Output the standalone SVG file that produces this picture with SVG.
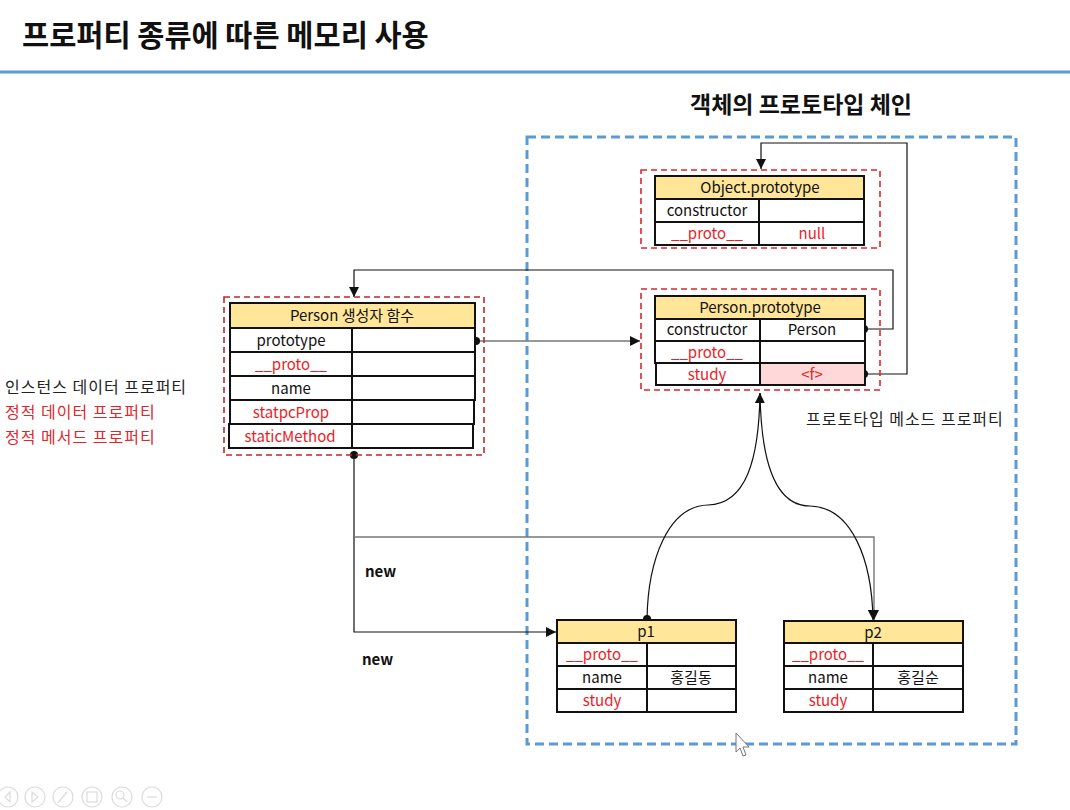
<svg xmlns="http://www.w3.org/2000/svg" width="1070" height="810" viewBox="0 0 1070 810">
  <style>
    text { font-family: "Noto Sans CJK KR", "Liberation Sans", sans-serif; }
    .title { font-size: 29.5px; font-weight: bold; fill: #111; }
    .sub { font-size: 23px; font-weight: bold; fill: #111; }
    .cell { fill: #fff; stroke: #111; stroke-width: 2; }
    .head { fill: #ffe699; stroke: #111; stroke-width: 2; }
    .pink { fill: #ffd9d9; stroke: #111; stroke-width: 2; }
    .t { font-size: 15px; fill: #111; text-anchor: middle; }
    .r { font-size: 15px; fill: #ec1c1f; text-anchor: middle; }
    .lg { font-size: 16px; fill: #222; letter-spacing: 1px; }
    .lgr { font-size: 16px; fill: #e0262c; letter-spacing: 1px; }
    .grp { fill: none; stroke: #e0262c; stroke-width: 1.6; stroke-dasharray: 6 4; }
    .grpd { fill: none; stroke: #b8282c; stroke-width: 1.6; stroke-dasharray: 6 4; }
    .conn { fill: none; stroke: #111; stroke-width: 1.2; }
    .connG { fill: none; stroke: #777; stroke-width: 1.4; }
    .ctl { fill: none; stroke: #dcdcdc; stroke-width: 1.2; }
  </style>
  <defs>
    <marker id="arr" viewBox="0 0 10 10" refX="10" refY="5" markerWidth="10" markerHeight="10" markerUnits="userSpaceOnUse" orient="auto">
      <path d="M0,0 L10,5 L0,10 z" fill="#111"/>
    </marker>
    <marker id="dot" viewBox="0 0 10 10" refX="5" refY="5" markerWidth="9" markerHeight="9" markerUnits="userSpaceOnUse">
      <circle cx="5" cy="5" r="4.5" fill="#111"/>
    </marker>
  </defs>

  <rect width="1070" height="810" fill="#fff"/>

  <!-- heading -->
  <text class="title" x="22" y="46">프로퍼티 종류에 따른 메모리 사용</text>
  <line x1="0" y1="72" x2="1070" y2="72" stroke="#5b9bd5" stroke-width="3"/>
  <text class="sub" x="801" y="113" text-anchor="middle">객체의 프로토타입 체인</text>

  <!-- prototype chain frame -->
  <rect x="527" y="137" width="489" height="607" fill="none" stroke="#5b9bd5" stroke-width="3" stroke-dasharray="9 5"/>

  <!-- legend -->
  <text class="lg" x="5" y="393">인스턴스 데이터 프로퍼티</text>
  <text class="lgr" x="5" y="418">정적 데이터 프로퍼티</text>
  <text class="lgr" x="5" y="443">정적 메서드 프로퍼티</text>
  <text class="lg" x="806" y="425">프로토타입 메소드 프로퍼티</text>

  <!-- connectors -->
  <g id="connectors">
    <!-- study <f> -> Object.prototype -->
    <path class="conn" d="M864,374 H907 V143 H761 V169" marker-start="url(#dot)" marker-end="url(#arr)"/>
    <!-- constructor -> Person -->
    <path class="conn" d="M864,329 H893 V270 H354 V297" marker-start="url(#dot)" marker-end="url(#arr)"/>
    <!-- prototype -> Person.prototype -->
    <path class="connG" d="M476,341 H640" marker-start="url(#dot)" marker-end="url(#arr)"/>
    <!-- new p1 -->
    <path class="conn" d="M354,455 V632 H556" marker-start="url(#dot)" marker-end="url(#arr)"/>
    <!-- new p2 -->
    <path class="connG" d="M354,537 H874 V620" marker-end="url(#arr)"/>
    <!-- instances -> Person.prototype -->
    <path class="conn" d="M647,619 C648,560 668,506 708,505 C746,504 759,460 760,393" marker-start="url(#dot)" marker-end="url(#arr)"/>
    <path class="conn" d="M760,393 C761,460 774,506 810,506 C852,507 872,560 873,620" marker-end="url(#arr)"/>
    <text x="365" y="577" font-size="15" font-weight="bold" fill="#111">new</text>
    <text x="362" y="665" font-size="15" font-weight="bold" fill="#111">new</text>
  </g>

  <!-- Object.prototype -->
  <g id="object-prototype">
    <rect class="grp" x="641" y="170" width="239" height="78"/>
    <rect class="head" x="655" y="176" width="209" height="23"/>
    <rect class="cell" x="655" y="199" width="104" height="23"/>
    <rect class="cell" x="759" y="199" width="105" height="23"/>
    <rect class="cell" x="655" y="222" width="104" height="23"/>
    <rect class="cell" x="759" y="222" width="105" height="23"/>
    <text class="t" x="760" y="193">Object.prototype</text>
    <text class="t" x="707" y="216">constructor</text>
    <text class="r" x="707" y="239">__proto__</text>
    <text class="r" x="812" y="239">null</text>
  </g>

  <!-- Person.prototype -->
  <g id="person-prototype">
    <rect class="grp" x="641" y="289" width="239" height="101"/>
    <rect class="head" x="655" y="296" width="210" height="23"/>
    <rect class="cell" x="655" y="319" width="105" height="22"/>
    <rect class="cell" x="760" y="319" width="105" height="22"/>
    <rect class="cell" x="655" y="341" width="105" height="22"/>
    <rect class="cell" x="760" y="341" width="105" height="22"/>
    <rect class="cell" x="656" y="363" width="104" height="22"/>
    <rect class="pink" x="760" y="363" width="105" height="22"/>
    <text class="t" x="760" y="313">Person.prototype</text>
    <text class="t" x="707" y="335">constructor</text>
    <text class="t" x="812" y="335">Person</text>
    <text class="r" x="707" y="358">__proto__</text>
    <text class="r" x="707" y="380">study</text>
    <text class="r" x="812" y="380">&lt;f&gt;</text>
  </g>

  <!-- Person constructor function -->
  <g id="person-constructor">
    <rect class="grpd" x="224" y="297" width="260" height="158"/>
    <rect class="head" x="230" y="303" width="245" height="25"/>
    <rect class="cell" x="230" y="328" width="122" height="24"/>
    <rect class="cell" x="352" y="328" width="123" height="24"/>
    <rect class="cell" x="230" y="352" width="122" height="24"/>
    <rect class="cell" x="352" y="352" width="123" height="24"/>
    <rect class="cell" x="230" y="376" width="122" height="24"/>
    <rect class="cell" x="352" y="376" width="123" height="24"/>
    <rect class="cell" x="230" y="400" width="122" height="24"/>
    <rect class="cell" x="352" y="400" width="122" height="24"/>
    <rect class="cell" x="229" y="424" width="123" height="24"/>
    <rect class="cell" x="352" y="424" width="121" height="24"/>
    <text class="t" x="352" y="321">Person 생성자 함수</text>
    <text class="t" x="291" y="346">prototype</text>
    <text class="r" x="291" y="370">__proto__</text>
    <text class="t" x="291" y="394">name</text>
    <text class="r" x="291" y="418">statpcProp</text>
    <text class="r" x="290" y="442">staticMethod</text>
  </g>

  <!-- instance p1 -->
  <g id="p1">
    <rect class="head" x="557" y="620" width="179" height="23"/>
    <rect class="cell" x="557" y="643" width="90" height="23"/>
    <rect class="cell" x="647" y="643" width="89" height="23"/>
    <rect class="cell" x="557" y="666" width="90" height="23"/>
    <rect class="cell" x="647" y="666" width="89" height="23"/>
    <rect class="cell" x="557" y="689" width="90" height="23"/>
    <rect class="cell" x="647" y="689" width="89" height="23"/>
    <text class="t" x="646" y="637">p1</text>
    <text class="r" x="602" y="660">__proto__</text>
    <text class="t" x="602" y="683">name</text>
    <text class="t" x="691" y="683">홍길동</text>
    <text class="r" x="602" y="706">study</text>
  </g>

  <!-- instance p2 -->
  <g id="p2">
    <rect class="head" x="784" y="621" width="179" height="22"/>
    <rect class="cell" x="784" y="643" width="89" height="23"/>
    <rect class="cell" x="873" y="643" width="90" height="23"/>
    <rect class="cell" x="784" y="666" width="89" height="23"/>
    <rect class="cell" x="873" y="666" width="90" height="23"/>
    <rect class="cell" x="784" y="689" width="89" height="23"/>
    <rect class="cell" x="873" y="689" width="90" height="23"/>
    <text class="t" x="873" y="638">p2</text>
    <text class="r" x="828" y="660">__proto__</text>
    <text class="t" x="828" y="683">name</text>
    <text class="t" x="918" y="683">홍길순</text>
    <text class="r" x="828" y="706">study</text>
  </g>

  <!-- pointer -->
  <path d="M736,733 L736,752 L740,748 L743,756 L746,755 L743,747 L749,747 Z" fill="#fff" stroke="#777" stroke-width="1"/>

  <!-- slideshow toolbar -->
  <g id="toolbar">
    <circle class="ctl" cx="8" cy="797" r="10"/>
    <path class="ctl" d="M10,792 L5,797 L10,802 Z"/>
    <circle class="ctl" cx="35" cy="797" r="10"/>
    <path class="ctl" d="M32,792 L38,797 L32,802 Z"/>
    <circle class="ctl" cx="63" cy="797" r="10"/>
    <path class="ctl" d="M58,803 L67,792"/>
    <circle class="ctl" cx="92" cy="797" r="10"/>
    <rect class="ctl" x="87" y="792" width="10" height="10"/>
    <circle class="ctl" cx="122" cy="797" r="10"/>
    <circle class="ctl" cx="120" cy="795" r="4"/>
    <path class="ctl" d="M123,798 L127,802"/>
    <circle class="ctl" cx="152" cy="797" r="10"/>
    <path class="ctl" d="M147,797 H157"/>
  </g>
</svg>
